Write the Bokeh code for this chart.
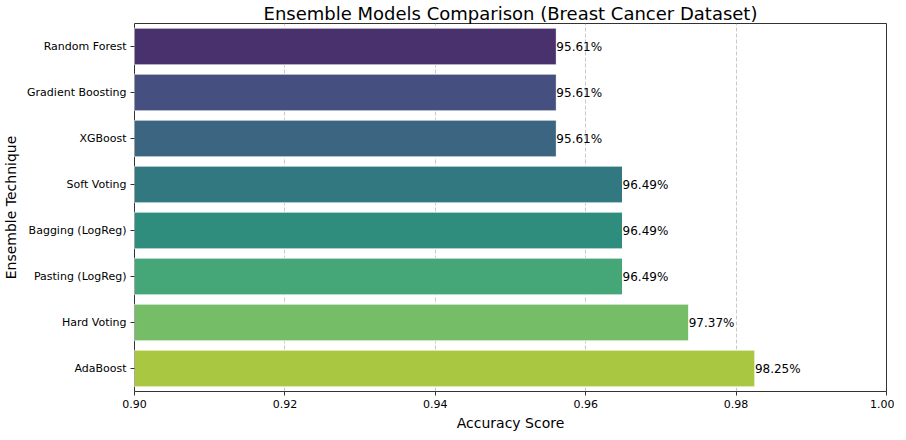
import colorsys
from bokeh.plotting import figure
from bokeh.models import ColumnDataSource, FactorRange, FixedTicker, Range1d, CustomJSTickFormatter
from bokeh.core.properties import value
from bokeh.palettes import Viridis256
from bokeh.embed import file_html
from bokeh.resources import INLINE

models = ["Random Forest", "Gradient Boosting", "XGBoost", "Soft Voting",
          "Bagging (LogReg)", "Pasting (LogReg)", "Hard Voting", "AdaBoost"]
accuracy = [0.9561, 0.9561, 0.9561, 0.9649, 0.9649, 0.9649, 0.9737, 0.9825]
x_ticks = [0.90, 0.92, 0.94, 0.96, 0.98, 1.00]

def desat(hexc, prop=0.75):
    r, g, b = (int(hexc[i:i + 2], 16) / 255 for i in (1, 3, 5))
    h, l, s = colorsys.rgb_to_hls(r, g, b)
    r, g, b = colorsys.hls_to_rgb(h, l, s * prop)
    return "#%02x%02x%02x" % (round(r * 255), round(g * 255), round(b * 255))

n = len(models)
colors = [desat(Viridis256[round((i + 1) / (n + 1) * 255)]) for i in range(n)]
labels = ["%.2f%%" % (a * 100) for a in accuracy]

src = ColumnDataSource(dict(model=models, acc=accuracy, color=colors, label=labels))

p = figure(frame_width=752, frame_height=368, output_backend="svg", toolbar_location=None,
           y_range=FactorRange(factors=list(reversed(models))),
           x_range=Range1d(0.90, 1.00),
           title="Ensemble Models Comparison (Breast Cancer Dataset)",
           min_border_left=120, min_border_right=8, min_border_top=0, min_border_bottom=0)

p.hbar(y="model", right="acc", left=0.90, height=0.8, color="color",
       line_color="white", line_width=1, source=src)
p.text(x="acc", y="model", text="label", source=src, text_align="left",
       text_baseline="middle", text_font_size="12px", text_color="black",
       text_font=value("DejaVu Sans"))

p.title.align = "center"
p.title.text_font = "DejaVu Sans"
p.title.text_font_size = "18px"
p.title.text_font_style = "normal"
p.title.text_color = "black"
p.title.standoff = 0
p.title.offset = 0
p.title.text_line_height = 0.9

p.xaxis.ticker = FixedTicker(ticks=x_ticks)
p.xaxis.formatter = CustomJSTickFormatter(code="return tick.toFixed(2);")
p.xaxis.axis_label = "Accuracy Score"
p.yaxis.axis_label = "Ensemble Technique"
for ax in (p.xaxis[0], p.yaxis[0]):
    ax.axis_label_text_font = "DejaVu Sans"
    ax.axis_label_text_font_size = "14px"
    ax.axis_label_text_font_style = "normal"
    ax.axis_label_text_color = "black"
    ax.major_label_text_font = "DejaVu Sans"
    ax.major_label_text_font_size = "11px"
    ax.major_label_text_color = "black"
    ax.major_tick_out = 4
    ax.major_tick_in = 0
    ax.minor_tick_out = 0
    ax.minor_tick_in = 0
    ax.axis_line_color = None
    ax.major_tick_line_color = "#333333"
p.xaxis.axis_label_standoff = 4
p.yaxis.axis_label_standoff = 5
p.xaxis.major_label_standoff = 4
p.yaxis.major_label_standoff = 4

p.xgrid.grid_line_color = "#b0b0b0"
p.xgrid.grid_line_dash = "4 2"
p.xgrid.grid_line_alpha = 0.7
p.ygrid.grid_line_color = None
p.outline_line_color = "#333333"
p.outline_line_width = 1
p.outline_line_alpha = 1

open("out.html", "w").write(file_html(p, INLINE))
